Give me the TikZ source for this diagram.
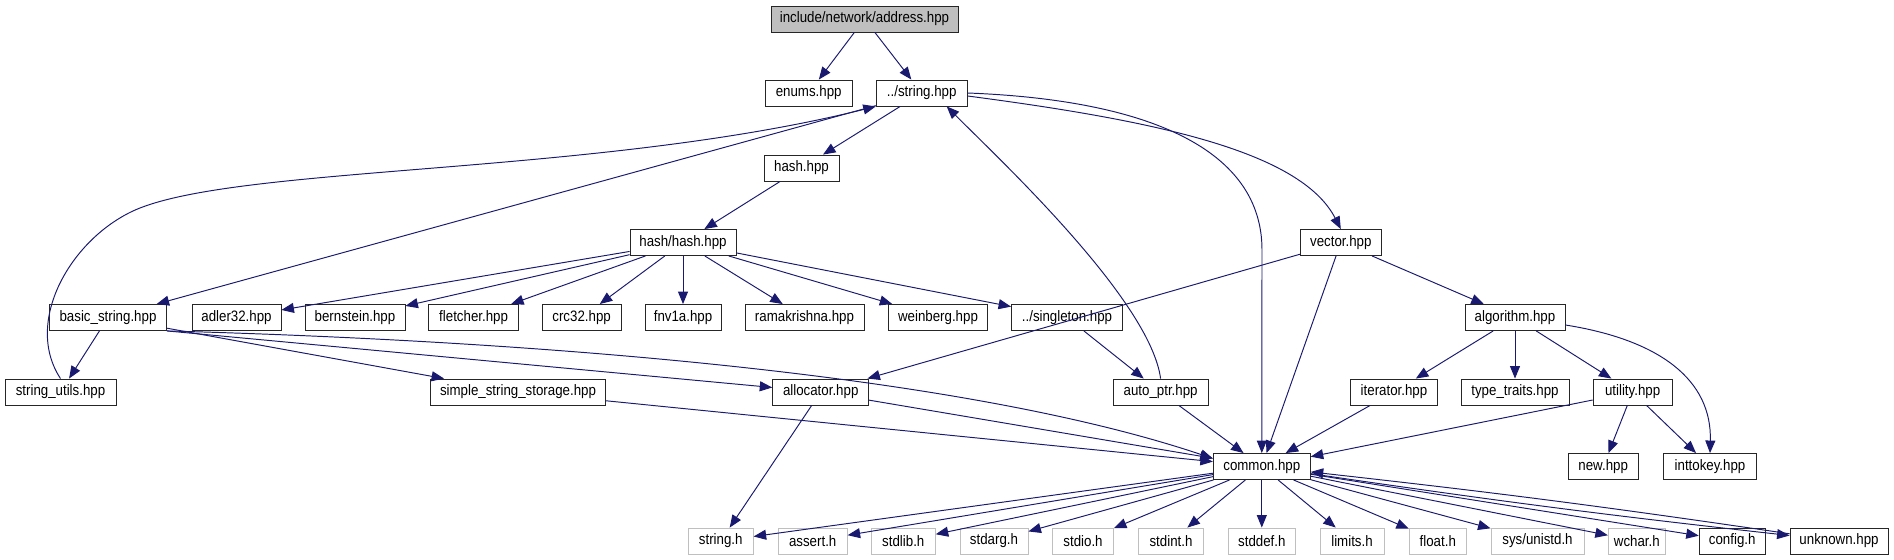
\documentclass[tikz,border=0pt]{standalone}
\usepackage{fontspec}
\setmainfont{Liberation Sans}[FakeStretch=0.88]
\usepackage{xcolor}
\usepackage{tikz}
\usetikzlibrary{arrows.meta}
\definecolor{edgeblue}{HTML}{191970}
\definecolor{sysgray}{HTML}{BFBFBF}

\begin{document}
\begin{tikzpicture}[
    x=0.02cm, y=-0.02cm,
    file/.style={draw=black!85, fill=white, line width=0.5pt, minimum height=0.52cm, inner sep=0pt, font=\fontsize{8.6}{9}\selectfont},
    boxw/.style={minimum width=#1*0.02cm},
    rootfile/.style={file, fill=sysgray},
    sysfile/.style={file, draw=sysgray},
    dep/.style={draw=edgeblue, line width=0.55pt, -{Triangle[length=0.25cm, width=0.2cm]}}
  ]
    \useasboundingbox (0,0) rectangle (1894,560);
    \node[rootfile, boxw=187] (root) at (864.5,19) {include/network/address.hpp};
    \node[file, boxw=87] (enums) at (808.7,93) {enums.hpp};
    \node[file, boxw=91] (strhpp) at (921.7,93) {../string.hpp};
    \node[file, boxw=75] (hashhpp) at (801.5,168) {hash.hpp};
    \node[file, boxw=106] (hashhash) at (683,242.5) {hash/hash.hpp};
    \node[file, boxw=81] (vector) at (1340.8,242.5) {vector.hpp};
    \node[file, boxw=117] (basicstr) at (108,317.5) {basic\_string.hpp};
    \node[file, boxw=89] (adler) at (236.5,317.5) {adler32.hpp};
    \node[file, boxw=100] (bernstein) at (355,317.5) {bernstein.hpp};
    \node[file, boxw=90] (fletcher) at (473.6,317.5) {fletcher.hpp};
    \node[file, boxw=79] (crc) at (581.6,317.5) {crc32.hpp};
    \node[file, boxw=76] (fnv) at (683,317.5) {fnv1a.hpp};
    \node[file, boxw=119] (rama) at (804.5,317.5) {ramakrishna.hpp};
    \node[file, boxw=99] (weinberg) at (938,317.5) {weinberg.hpp};
    \node[file, boxw=111] (singleton) at (1067,317.5) {../singleton.hpp};
    \node[file, boxw=100] (algorithm) at (1515,317.5) {algorithm.hpp};
    \node[file, boxw=111] (strutils) at (60.5,392) {string\_utils.hpp};
    \node[file, boxw=175] (simplestore) at (518,392) {simple\_string\_storage.hpp};
    \node[file, boxw=96] (allocator) at (820.7,392) {allocator.hpp};
    \node[file, boxw=95] (autoptr) at (1160.6,392) {auto\_ptr.hpp};
    \node[file, boxw=87] (iterator) at (1394,392) {iterator.hpp};
    \node[file, boxw=108] (typetraits) at (1515,392) {type\_traits.hpp};
    \node[file, boxw=79] (utility) at (1632.6,392) {utility.hpp};
    \node[file, boxw=97] (common) at (1261.8,466.5) {common.hpp};
    \node[file, boxw=70] (newhpp) at (1603.2,466.5) {new.hpp};
    \node[file, boxw=93] (inttokey) at (1710,466.5) {inttokey.hpp};
    \node[sysfile, boxw=65] (stringh) at (720.7,541) {string.h};
    \node[sysfile, boxw=69] (asserth) at (812.7,541) {assert.h};
    \node[sysfile, boxw=64] (stdlibh) at (903.3,541) {stdlib.h};
    \node[sysfile, boxw=68] (stdargh) at (994,541) {stdarg.h};
    \node[sysfile, boxw=61] (stdioh) at (1083,541) {stdio.h};
    \node[sysfile, boxw=65] (stdinth) at (1171,541) {stdint.h};
    \node[sysfile, boxw=67] (stddefh) at (1261.8,541) {stddef.h};
    \node[sysfile, boxw=64] (limitsh) at (1352,541) {limits.h};
    \node[sysfile, boxw=57] (floath) at (1437.8,541) {float.h};
    \node[sysfile, boxw=93] (unistdh) at (1537.5,541) {sys/unistd.h};
    \node[sysfile, boxw=57] (wcharh) at (1636.8,541) {wchar.h};
    \node[file, boxw=66] (configh) at (1732.2,541) {config.h};
    \node[file, boxw=98] (unknown) at (1839,541) {unknown.hpp};
    \draw[dep] (root) -- (enums);
    \draw[dep] (root) -- (strhpp);
    \draw[dep] (strhpp) -- (hashhpp);
    \draw[dep] (strhpp) -- (basicstr);
    \draw[dep] (strhpp.east) .. controls (1150,100) and (1262,150) .. (1262,250) -- (common.north);
    \draw[dep] ([yshift=-0.06cm]strhpp.east) .. controls (1150,120) and (1300,150) .. (vector.north);
    \draw[dep] (strutils.north) .. controls (22,320) and (74,234) .. (140,208)
      .. controls (250,165) and (600,175) .. (strhpp.south west);
    \draw[dep] (autoptr.north) .. controls (1150,300) and (1000,160) .. ([xshift=0.5cm]strhpp.south);
    \draw[dep] (hashhpp) -- (hashhash);
    \draw[dep] (hashhash) -- (adler);
    \draw[dep] (hashhash) -- (bernstein);
    \draw[dep] (hashhash) -- (fletcher);
    \draw[dep] (hashhash) -- (crc);
    \draw[dep] (hashhash) -- (fnv);
    \draw[dep] (hashhash) -- (rama);
    \draw[dep] (hashhash) -- (weinberg);
    \draw[dep] (hashhash) -- (singleton);
    \draw[dep] (singleton) -- (autoptr);
    \draw[dep] (basicstr) -- (strutils);
    \draw[dep] (basicstr) -- (simplestore);
    \draw[dep] (basicstr.south east) -- (allocator);
    \draw[dep] (basicstr.south east) .. controls (500,340) and (950,370) .. ([yshift=0.16cm]common.west);
    \draw[dep] (simplestore) -- (common);
    \draw[dep] (allocator) -- (common);
    \draw[dep] (allocator) -- (stringh);
    \draw[dep] (vector) -- (allocator);
    \draw[dep] (vector) -- (common);
    \draw[dep] (vector) -- (algorithm);
    \draw[dep] (autoptr) -- (common);
    \draw[dep] (algorithm) -- (iterator);
    \draw[dep] (algorithm) -- (typetraits);
    \draw[dep] (algorithm) -- (utility);
    \draw[dep] ([yshift=-0.15cm]algorithm.east) .. controls (1660,340) and (1712,380) .. (inttokey.north);
    \draw[dep] (iterator) -- (common);
    \draw[dep] (utility) -- (common);
    \draw[dep] (utility) -- (newhpp);
    \draw[dep] (utility) -- (inttokey);
    \draw[dep] (common) -- (stringh);
    \draw[dep] (common) -- (asserth);
    \draw[dep] (common) -- (stdlibh);
    \draw[dep] (common) -- (stdargh);
    \draw[dep] (common) -- (stdioh);
    \draw[dep] (common) -- (stdinth);
    \draw[dep] (common) -- (stddefh);
    \draw[dep] (common) -- (limitsh);
    \draw[dep] (common) -- (floath);
    \draw[dep] (common) -- (unistdh);
    \draw[dep] (common) -- (wcharh);
    \draw[dep] (common) -- (configh);
    \draw[dep] (common) to[bend right=1] (unknown);
    \draw[dep] (unknown) to[bend right=1] (common);
  \end{tikzpicture}
\end{document}
